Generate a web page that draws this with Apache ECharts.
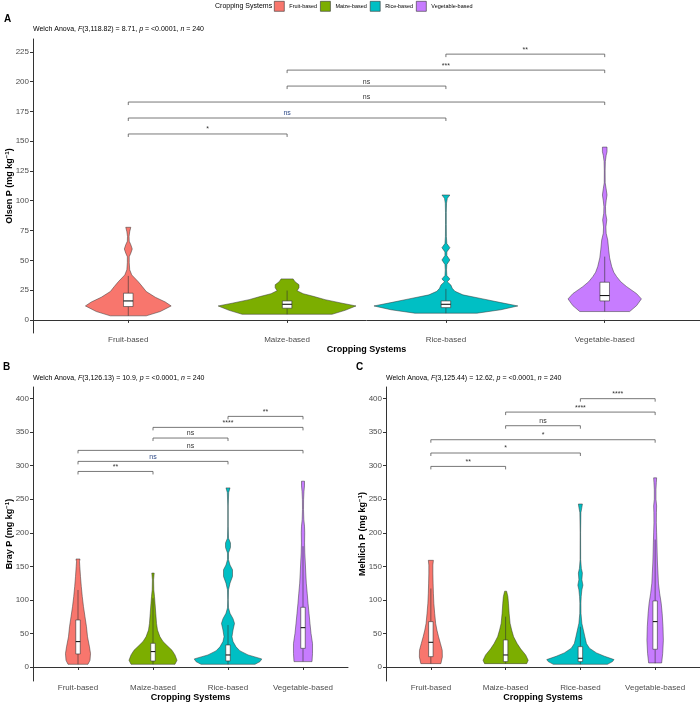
<!DOCTYPE html>
<html>
<head>
<meta charset="utf-8">
<script src="https://cdn.jsdelivr.net/npm/echarts@6/dist/echarts.min.js"></script>
<style>html,body{margin:0;padding:0;background:#fff}#chart{width:700px;height:703px}</style>
</head>
<body>
<div id="chart"></div>
<script>
// ---------- DATA ----------
const categories = ['Fruit-based', 'Maize-based', 'Rice-based', 'Vegetable-based'];
const colors = ['#F8766D', '#7CAE00', '#00BFC4', '#C77CFF'];
const olsenTicks = [0, 25, 50, 75, 100, 125, 150, 175, 200, 225];
const brayTicks = [0, 50, 100, 150, 200, 250, 300, 350, 400];
const mehlichTicks = [0, 50, 100, 150, 200, 250, 300, 350, 400];

// violin profiles: [value, half-width in category units]
const olsenFruit = [[3.4,.113],[7,.201],[11.7,.27],[15,.233],[19,.17],[23.8,.113],[28,.088],[32,.063],[37.7,.022],[42,.009],[48,.006],[53,.006],[56,.016],[59.5,.025],[63,.016],[66,.006],[70,.005],[74,.009],[77.7,.016]];
const olsenMaize = [[4.7,.283],[8,.365],[11.7,.434],[14,.346],[17,.239],[19.6,.17],[22,.101],[24.5,.063],[27,.075],[29.5,.075],[32,.05],[34.4,.038]];
const olsenRice = [[5.6,.195],[8.5,.346],[11.7,.453],[14.5,.346],[17.6,.233],[21,.107],[24,.057],[26.5,.04],[29.3,.031],[32,.009],[34.4,.025],[37.2,.006],[42,.004],[46.5,.006],[50.3,.025],[54,.006],[57,.006],[60.6,.025],[64,.006],[70,.003],[80,.0025],[90,.0025],[98,.004],[102,.009],[104.8,.025]];
const olsenVeg = [[7,.157],[12,.201],[17.6,.231],[22,.201],[27.9,.138],[32,.101],[36.3,.075],[40,.057],[44.7,.044],[52,.031],[58.7,.025],[67,.019],[72.7,.009],[78,.0075],[83.9,.013],[89.5,.006],[95,.005],[100,.009],[104.8,.0145],[110,.009],[115,.003],[125,.0025],[133,.004],[138,.009],[141,.0145],[145,.0145]];

const brayFruit = [[4,.133],[10,.16],[20,.167],[30,.153],[45,.127],[60,.113],[75,.093],[90,.073],[105,.057],[120,.044],[135,.033],[150,.024],[157,.02],[161,.027]];
const brayMaize = [[4,.293],[10,.32],[18,.293],[25,.253],[32,.187],[38,.133],[45,.093],[55,.06],[65,.047],[80,.037],[95,.027],[105,.02],[115,.011],[130,.008],[140,.016]];
const brayRice = [[4,.36],[8,.427],[12,.45],[18,.267],[24,.16],[30,.107],[38,.067],[45,.053],[55,.067],[65,.087],[72,.067],[80,.027],[88,.007],[100,.004],[115,.007],[125,.027],[135,.06],[145,.06],[152,.027],[160,.007],[170,.007],[178,.033],[185,.033],[192,.007],[210,.003],[240,.003],[260,.009],[267,.027]];
const brayVeg = [[8,.12],[20,.127],[35,.127],[50,.107],[65,.093],[80,.08],[95,.067],[110,.056],[125,.044],[140,.037],[155,.031],[170,.024],[185,.021],[200,.023],[210,.02],[220,.011],[235,.007],[250,.008],[262,.013],[270,.02],[277,.02]];

const mehlichFruit = [[5,.134],[15,.154],[25,.152],[35,.128],[45,.103],[55,.081],[65,.064],[80,.051],[95,.04],[110,.034],[125,.03],[140,.027],[152,.027],[159,.034]];
const mehlichMaize = [[5,.282],[10,.302],[18,.268],[27,.201],[35,.154],[45,.107],[55,.081],[65,.06],[80,.047],[95,.038],[105,.03],[113,.013]];
const mehlichRice = [[4,.362],[8,.43],[11,.45],[16,.322],[21,.215],[28,.121],[35,.081],[45,.06],[55,.04],[65,.02],[80,.008],[95,.007],[105,.011],[115,.02],[122,.034],[130,.02],[140,.027],[147,.013],[160,.004],[200,.003],[230,.007],[238,.02],[243,.027]];
const mehlichVeg = [[6,.087],[20,.101],[40,.11],[60,.105],[80,.094],[95,.081],[110,.06],[125,.044],[140,.038],[155,.031],[170,.027],[185,.024],[200,.02],[215,.016],[230,.017],[240,.02],[250,.011],[265,.011],[275,.016],[282,.02]];

// box stats: [low, q1, median, q3, high]
const olsenBox = [[3.4,11.2,15.9,22.4,36.9],[4.7,9.8,13.1,15.9,24.6],[5.6,10.3,13.1,15.9,26],[7,15.9,20.4,31.6,53.1]];
const brayBox = [[4,19.4,37.8,70.1,114.8],[4,8.9,22.9,35.3,102.4],[4,9,17.9,32.8,62.6],[8,27.8,58.6,89,180]];
const mehlichBox = [[5,15.4,36.8,67.6,117],[5,8,17.9,40.3,75],[4,8,13,30.3,60],[5.5,26.4,67.6,98.5,190]];

// significance brackets: [from category, to category, y value]
const olsenBrackets = [[1,2,156],[1,3,169.4],[1,4,182.8],[2,3,196.2],[2,4,209.6],[3,4,223]];
const olsenSig = ['*','ns','ns','ns','***','**'];
const brayBrackets = [[1,2,291.5],[1,3,306.5],[1,4,322.9],[2,3,341.3],[2,4,357.2],[3,4,373.6]];
const braySig = ['**','ns','ns','ns','****','**'];
const mehlichBrackets = [[1,2,299],[1,3,319],[1,4,338.8],[2,3,359.7],[2,4,380],[3,4,400]];
const mehlichSig = ['**','*','*','ns','****','****'];

const subtitles = [
  'Welch Anova, {i|F}(3,118.82) = 8.71, {i|p} = <0.0001, {i|n} = 240',
  'Welch Anova, {i|F}(3,126.13) = 10.9, {i|p} = <0.0001, {i|n} = 240',
  'Welch Anova, {i|F}(3,125.44) = 12.62, {i|p} = <0.0001, {i|n} = 240'
];
const yNames = ['Olsen P', 'Bray P', 'Mehlich P'];

// ---------- CHART ----------
const FONT = '"Liberation Sans", Arial, sans-serif';
const panels = [
  { profiles: [olsenFruit, olsenMaize, olsenRice, olsenVeg], box: olsenBox, br: olsenBrackets, sig: olsenSig, ticks: olsenTicks, min: -11, max: 235.7 },
  { profiles: [brayFruit, brayMaize, brayRice, brayVeg], box: brayBox, br: brayBrackets, sig: braySig, ticks: brayTicks, min: -20.9, max: 417.4 },
  { profiles: [mehlichFruit, mehlichMaize, mehlichRice, mehlichVeg], box: mehlichBox, br: mehlichBrackets, sig: mehlichSig, ticks: mehlichTicks, min: -20.9, max: 417.4 }
];

const grids = [
  { left: 33, top: 39, width: 667, height: 294, outerBoundsMode: 'none', containLabel: false },
  { left: 33, top: 387, width: 315, height: 294, outerBoundsMode: 'none', containLabel: false },
  { left: 386, top: 387, width: 314, height: 294, outerBoundsMode: 'none', containLabel: false }
];

const xAxes = grids.map((g, i) => ({
  type: 'value', gridIndex: i, min: 0.4, max: 4.6,
  name: 'Cropping Systems', nameLocation: 'middle', nameGap: 12, nameMoveOverlap: false,
  nameTextStyle: { fontFamily: FONT, fontWeight: 'bold', fontSize: 9, color: '#000' },
  axisLine: { show: true, lineStyle: { color: '#333', width: 1 } },
  axisTick: { show: true, length: 3, customValues: [1, 2, 3, 4], lineStyle: { color: '#333' } },
  axisLabel: { customValues: [1, 2, 3, 4], formatter: v => categories[Math.round(v) - 1], fontFamily: FONT, fontSize: 8, color: '#4D4D4D', margin: 3 },
  splitLine: { show: false }
}));

const yAxes = panels.map((p, i) => ({
  type: 'value', gridIndex: i, min: p.min, max: p.max,
  name: yNames[i] + ' (mg kg{sup|\u22121})', nameLocation: 'middle', nameGap: 18, nameRotate: 90, nameMoveOverlap: false,
  nameTextStyle: { fontFamily: FONT, fontWeight: 'bold', fontSize: 9, color: '#000', lineHeight: 11,
    rich: { sup: { fontFamily: FONT, fontWeight: 'bold', fontSize: 6, color: '#000', verticalAlign: 'top', lineHeight: 11 } } },
  axisLine: { show: true, lineStyle: { color: '#333', width: 1 } },
  axisTick: { show: true, length: 3, customValues: p.ticks, lineStyle: { color: '#333' } },
  axisLabel: { customValues: p.ticks, fontFamily: FONT, fontSize: 8, color: '#4D4D4D', margin: 4 },
  splitLine: { show: false }
}));

function violinRender(profile) {
  return function (params, api) {
    const c = api.value(0);
    const right = profile.map(d => api.coord([c + d[1], d[0]]));
    const left = profile.slice().reverse().map(d => api.coord([c - d[1], d[0]]));
    return {
      type: 'polygon',
      shape: { points: right.concat(left) },
      style: { fill: api.visual('color'), stroke: '#333', lineWidth: 0.5 }
    };
  };
}

const BOX_HALF = 0.03;
function boxRender(params, api) {
  const c = api.value(0);
  const low = api.coord([c, api.value(1)]);
  const q1 = api.coord([c, api.value(2)]);
  const med = api.value(3);
  const q3 = api.coord([c, api.value(4)]);
  const high = api.coord([c, api.value(5)]);
  const l = api.coord([c - BOX_HALF, med]);
  const r = api.coord([c + BOX_HALF, med]);
  return {
    type: 'group',
    children: [
      { type: 'line', shape: { x1: low[0], y1: low[1], x2: q1[0], y2: q1[1] }, style: { stroke: '#333', lineWidth: 0.6 } },
      { type: 'line', shape: { x1: q3[0], y1: q3[1], x2: high[0], y2: high[1] }, style: { stroke: '#333', lineWidth: 0.6 } },
      { type: 'rect', shape: { x: l[0], y: q3[1], width: r[0] - l[0], height: q1[1] - q3[1] }, style: { fill: '#fff', stroke: '#333', lineWidth: 0.6 } },
      { type: 'line', shape: { x1: l[0], y1: l[1], x2: r[0], y2: r[1] }, style: { stroke: '#000', lineWidth: 1 } }
    ]
  };
}

function bracketRender(sig) {
  return function (params, api) {
    const a = api.coord([api.value(0), api.value(2)]);
    const b = api.coord([api.value(1), api.value(2)]);
    const label = sig[params.dataIndex];
    const blue = label === 'ns' && api.value(0) === 1 && api.value(1) === 3;
    return {
      type: 'group',
      children: [
        { type: 'polyline', shape: { points: [[a[0], a[1] + 3], [a[0], a[1]], [b[0], b[1]], [b[0], b[1] + 3]] }, style: { stroke: '#555', lineWidth: 0.8, fill: 'none' } },
        { type: 'text', x: (a[0] + b[0]) / 2, y: a[1] - 1, style: { text: label, fill: blue ? '#2E4A87' : '#333', fontSize: 7, fontFamily: FONT, align: 'center', verticalAlign: 'bottom' } }
      ]
    };
  };
}

const series = [];
panels.forEach((p, pi) => {
  p.profiles.forEach((prof, gi) => {
    const vals = prof.map(d => d[0]);
    series.push({
      type: 'custom', name: categories[gi], xAxisIndex: pi, yAxisIndex: pi,
      itemStyle: { color: colors[gi], borderColor: '#333', borderWidth: 0.6 },
      renderItem: violinRender(prof),
      encode: { x: 0, y: [1, 2] },
      data: [[gi + 1, Math.min(...vals), Math.max(...vals)]],
      z: 2, silent: true
    });
  });
  series.push({
    type: 'custom', name: 'box' + pi, xAxisIndex: pi, yAxisIndex: pi,
    renderItem: boxRender, encode: { x: 0, y: [1, 2, 3, 4, 5] },
    data: p.box.map((b, gi) => [gi + 1].concat(b)), z: 3, silent: true
  });
  series.push({
    type: 'custom', name: 'sig' + pi, xAxisIndex: pi, yAxisIndex: pi,
    renderItem: bracketRender(p.sig), encode: { x: [0, 1], y: 2 },
    data: p.br, z: 4, silent: true
  });
});

const titleStyle = { fontFamily: FONT, fontSize: 7, fontWeight: 'normal', color: '#000', lineHeight: 8,
  rich: { i: { fontFamily: FONT, fontSize: 7, fontStyle: 'italic', color: '#000', lineHeight: 8 } } };

const option = {
  animation: false,
  backgroundColor: '#fff',
  title: [
    { text: 'Cropping Systems', left: 215, top: 3, padding: 0, textStyle: { fontFamily: FONT, fontSize: 7, fontWeight: 'normal', color: '#000' } },
    { text: 'A', left: 4, top: 14, padding: 0, textStyle: { fontFamily: FONT, fontSize: 10, fontWeight: 'bold', color: '#000' } },
    { text: 'B', left: 3, top: 362, padding: 0, textStyle: { fontFamily: FONT, fontSize: 10, fontWeight: 'bold', color: '#000' } },
    { text: 'C', left: 356, top: 362, padding: 0, textStyle: { fontFamily: FONT, fontSize: 10, fontWeight: 'bold', color: '#000' } },
    { text: subtitles[0], left: 33, top: 25, padding: 0, textStyle: titleStyle },
    { text: subtitles[1], left: 33, top: 374, padding: 0, textStyle: titleStyle },
    { text: subtitles[2], left: 386, top: 374, padding: 0, textStyle: titleStyle }
  ],
  legend: {
    data: categories, left: 274, top: 1, padding: 0, orient: 'horizontal',
    icon: 'rect', itemWidth: 10, itemHeight: 10, itemGap: 3,
    itemStyle: { borderColor: '#333', borderWidth: 0.6 },
    textStyle: { fontFamily: FONT, fontSize: 5.5, color: '#000' }
  },
  grid: grids,
  xAxis: xAxes,
  yAxis: yAxes,
  series: series
};

const chart = echarts.init(document.getElementById('chart'), null, { renderer: 'canvas' });
chart.setOption(option);
</script>
</body>
</html>
